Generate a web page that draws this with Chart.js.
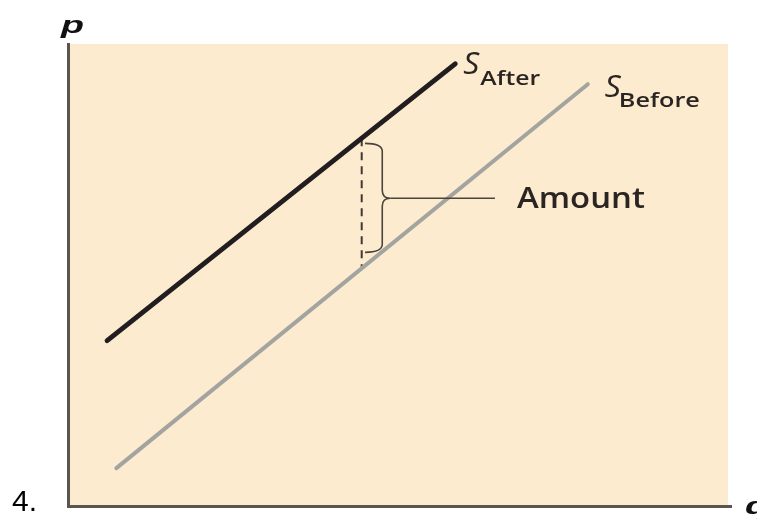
<!DOCTYPE html>
<html>
<head>
<meta charset="utf-8">
<script src="https://cdn.jsdelivr.net/npm/chart.js@4.4.1/dist/chart.umd.min.js"></script>
<style>
  html, body { margin: 0; padding: 0; background: #ffffff; }
  #wrap { width: 757px; height: 519px; position: relative; }
</style>
</head>
<body>
<div id="wrap"><canvas id="c" width="757" height="519"></canvas></div>
<script>
// ---- data (quantity q on x, price p on y, axis 0..100) ----
const seriesNames = ['S_After', 'S_Before'];
const afterQ  = [5.9, 58.4];
const afterP  = [35.8, 95.7];
const beforeQ = [7.3, 78.4];
const beforeP = [8.2, 91.3];
// vertical gap (the tax amount) at one quantity
const gapQ = [44.3, 44.3];
const gapP = [79.6, 51.4];
// brace marking the amount
const braceQ = [44.8, 47.4, 48.6];   // curl end, spine, tip
const braceP = [78.5, 66.6, 54.9];   // top, middle, bottom
const leaderEndQ = 64.4;
const axisLabels = ['p', 'q'];
const amountLabel = 'Amount';
const figureNumber = '4.';

function pts(xs, ys) { return xs.map((x, i) => ({ x: x, y: ys[i] })); }

function drawStretched(ctx, text, x, y, font, width, color) {
  ctx.save();
  ctx.font = font;
  ctx.fillStyle = color;
  ctx.textBaseline = 'alphabetic';
  const w = ctx.measureText(text).width;
  ctx.translate(x, y);
  ctx.scale(width / w, 1);
  ctx.fillText(text, 0, 0);
  ctx.restore();
}

const bgPlugin = {
  id: 'bg',
  beforeDraw(chart) {
    const { ctx, chartArea: a } = chart;
    ctx.save();
    ctx.fillStyle = '#fdebcf';
    ctx.fillRect(a.left, a.top, a.right - a.left - 3, a.bottom - a.top);
    ctx.restore();
  }
};

const annoPlugin = {
  id: 'anno',
  afterDatasetsDraw(chart) {
    const { ctx } = chart;
    const xs = chart.scales.x, ys = chart.scales.y;
    const X = v => xs.getPixelForValue(v), Y = v => ys.getPixelForValue(v);

    // brace
    const xe = X(braceQ[0]), xs2 = X(braceQ[1]), xt = X(braceQ[2]);
    const yt = Y(braceP[0]), ym = Y(braceP[1]), yb = Y(braceP[2]);
    ctx.save();
    ctx.strokeStyle = '#4a443c';
    ctx.lineWidth = 1.6;
    ctx.beginPath();
    ctx.moveTo(xe, yt);
    ctx.quadraticCurveTo(xs2, yt, xs2, yt + 8);
    ctx.lineTo(xs2, ym - 8);
    ctx.quadraticCurveTo(xs2, ym, xt, ym);
    ctx.quadraticCurveTo(xs2, ym, xs2, ym + 8);
    ctx.lineTo(xs2, yb - 8);
    ctx.quadraticCurveTo(xs2, yb, xe, yb);
    ctx.stroke();
    // leader line
    ctx.beginPath();
    ctx.moveTo(xt, ym);
    ctx.lineTo(X(leaderEndQ), ym);
    ctx.stroke();
    ctx.restore();

    // Amount label
    drawStretched(ctx, amountLabel, X(leaderEndQ) + 22, ym + 10, '600 29px "Open Sans"', 128, '#2a2522');

    // series labels
    const aEndX = X(afterQ[1]), aEndY = Y(afterP[1]);
    drawStretched(ctx, 'S', aEndX + 8, aEndY + 10, 'italic 31px "Open Sans"', 16, '#2a2522');
    drawStretched(ctx, 'After', aEndX + 25, aEndY + 21, '600 19px "Open Sans"', 60, '#2a2522');
    const bEndX = X(beforeQ[1]), bEndY = Y(beforeP[1]);
    drawStretched(ctx, 'S', bEndX + 17, bEndY + 13, 'italic 31px "Open Sans"', 16, '#2a2522');
    drawStretched(ctx, 'Before', bEndX + 31, bEndY + 23, '600 19px "Open Sans"', 81, '#2a2522');

    // axis letters
    const a = chart.chartArea;
    drawStretched(ctx, axisLabels[0], a.left - 7, a.top - 11, 'bold italic 24px "Liberation Sans"', 23, '#111111');
    drawStretched(ctx, axisLabels[1], a.right + 14, a.bottom + 8, 'bold italic 24px "Liberation Sans"', 23, '#111111');

    // figure number
    ctx.save();
    ctx.font = '30px "Liberation Sans"';
    ctx.fillStyle = '#000000';
    ctx.fillText(figureNumber, 12, 511);
    ctx.restore();
  }
};

const axisCommon = {
  type: 'linear',
  min: 0,
  max: 100,
  ticks: { display: false },
  grid: { display: false, drawTicks: false },
  border: { display: true, color: '#5a554f', width: 3 }
};

new Chart(document.getElementById('c'), {
  type: 'scatter',
  data: {
    datasets: [
      {
        label: seriesNames[0],
        data: pts(afterQ, afterP),
        showLine: true,
        borderColor: '#221e1f',
        borderWidth: 5,
        borderCapStyle: 'round',
        pointRadius: 0,
        order: 1
      },
      {
        label: seriesNames[1],
        data: pts(beforeQ, beforeP),
        showLine: true,
        borderColor: '#a3a4a0',
        borderWidth: 4,
        borderCapStyle: 'round',
        pointRadius: 0,
        order: 2
      },
      {
        label: 'gap',
        data: pts(gapQ, gapP),
        showLine: true,
        borderColor: '#3f3936',
        borderWidth: 2,
        borderDash: [8, 6],
        pointRadius: 0,
        order: 3
      }
    ]
  },
  options: {
    responsive: false,
    animation: false,
    layout: { padding: { left: 68, right: 26, top: 44, bottom: 13 } },
    plugins: { legend: { display: false }, tooltip: { enabled: false } },
    scales: { x: axisCommon, y: axisCommon }
  },
  plugins: [bgPlugin, annoPlugin]
});
</script>
</body>
</html>
